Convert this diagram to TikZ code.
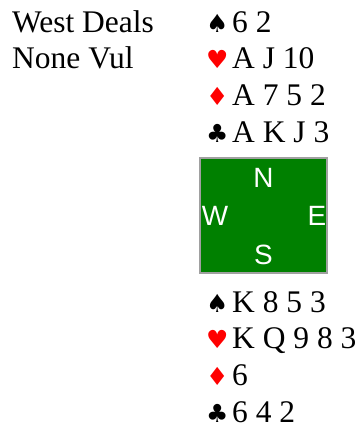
\documentclass[tikz,border=0pt]{standalone}
\usepackage{fontspec}
\setmainfont{Liberation Serif}
\setsansfont{Liberation Sans}
\newfontfamily\suitfont{DejaVu Sans}
\definecolor{feltgreen}{RGB}{0,128,0}
\definecolor{rimgray}{RGB}{160,160,160}
\definecolor{suitred}{RGB}{255,0,0}
\usetikzlibrary{positioning}
\newcommand{\suitmark}[2]{\makebox[26bp][l]{\color{#1}\suitfont\fontsize{25}{25}\selectfont #2}}

\begin{document}
\begin{tikzpicture}[x=1bp,y=-1bp,node distance=12.3bp,
    hand/.style={inner sep=0pt,text height=22bp,text depth=2bp,font=\fontsize{31.6}{36}\selectfont},
    table/.style={draw=rimgray,line width=2bp,fill=feltgreen,minimum width=127bp,minimum height=115bp,inner sep=0pt},
    seat/.style={inner sep=0pt,text=white,font=\sffamily\fontsize{28}{28}\selectfont}]
    \useasboundingbox (0,0) rectangle (360,426);
    \node[hand,anchor=base west] (deal) at (12,32) {West Deals};
    \node[hand,below=of deal.south west,anchor=north west] (vul) {None Vul};
    % north hand
    \node[hand,anchor=base west] (ns) at (206,32) {\suitmark{black}{♠}6 2};
    \node[hand,below=of ns.south west,anchor=north west] (nh) {\suitmark{suitred}{♥}A J 10};
    \node[hand,below=of nh.south west,anchor=north west] (nd) {\suitmark{suitred}{♦}A 7 5 2};
    \node[hand,below=of nd.south west,anchor=north west] (nc) {\suitmark{black}{♣}A K J 3};
    % table
    \node[table] (table) at (263.5,215.4) {};
    \node[seat] (north) at ([yshift=-21bp]table.north) {N};
    \node[seat] (west) at ([xshift=16bp]table.west) {W};
    \node[seat] (east) at ([xshift=-11bp]table.east) {E};
    \node[seat] (south) at ([yshift=19bp]table.south) {S};
    % south hand
    \node[hand,anchor=base west] (ss) at (206,312) {\suitmark{black}{♠}K 8 5 3};
    \node[hand,below=of ss.south west,anchor=north west] (sh) {\suitmark{suitred}{♥}K Q 9 8 3};
    \node[hand,below=of sh.south west,anchor=north west] (sd) {\suitmark{suitred}{♦}6};
    \node[hand,below=of sd.south west,anchor=north west] (sc) {\suitmark{black}{♣}6 4 2};
\end{tikzpicture}
\end{document}
